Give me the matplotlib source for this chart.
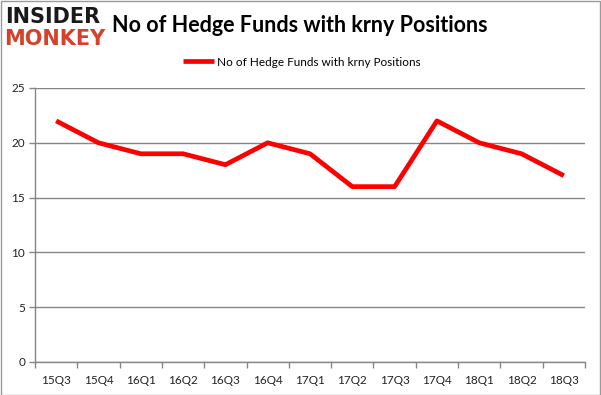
import matplotlib.pyplot as plt
import numpy as np

quarters = ["15Q3", "15Q4", "16Q1", "16Q2", "16Q3", "16Q4", "17Q1",
            "17Q2", "17Q3", "17Q4", "18Q1", "18Q2", "18Q3"]
funds = [22, 20, 19, 19, 18, 20, 19, 16, 16, 22, 20, 19, 17]
series_name = "No of Hedge Funds with krny Positions"

W, H = 601, 395
fig = plt.figure(figsize=(W / 100, H / 100), dpi=100)
fig.patch.set_facecolor("white")

# axes box in pixels
left, right, top, bottom = 35, 585, 88, 362
ax = fig.add_axes([left / W, 1 - bottom / H, (right - left) / W, (bottom - top) / H])

x = np.arange(len(quarters))
ax.plot(x, funds, color="#ff0000", linewidth=3.4, solid_capstyle="butt", label=series_name)

ax.set_xlim(-0.5, len(quarters) - 0.5)
ax.set_ylim(0, 25)
ax.set_yticks(range(0, 26, 5))
ax.yaxis.grid(True, color="#868686", linewidth=1)
ax.set_axisbelow(True)

# category ticks sit between the labels, like the original
ax.set_xticks(np.arange(-0.5, len(quarters)), minor=False)
ax.set_xticklabels([])
ax.set_xticks(x, minor=True)
ax.set_xticklabels(quarters, minor=True)
ax.tick_params(axis="x", which="major", length=4, color="#868686", width=1, direction="out")
ax.tick_params(axis="x", which="minor", length=0, pad=9, labelsize=8.5, labelcolor="#222222")
ax.tick_params(axis="y", length=4, color="#868686", width=1, labelsize=8.5,
               labelcolor="#222222", pad=3)

for side in ["top", "right"]:
    ax.spines[side].set_visible(False)
for side in ["left", "bottom"]:
    ax.spines[side].set_color("#868686")
    ax.spines[side].set_linewidth(1)

for lab in ax.get_xticklabels(minor=True) + ax.get_yticklabels():
    lab.set_family("Lato")

fig.text(300 / W, 1 - 26 / H, series_name, ha="center", va="center",
         fontsize=15.5, fontweight="bold", family="Lato", color="black")

fig.legend(loc="center", bbox_to_anchor=(302 / W, 1 - 62 / H), frameon=False,
           prop={"family": "Lato", "size": 8.5}, handlelength=2.6, handletextpad=0.3)

# logo
fig.text(5 / W, 1 - 17 / H, "INSIDER", ha="left", va="center", fontsize=15,
         fontweight="black", family="DejaVu Sans", color="#1a1a1a")
fig.text(4 / W, 1 - 39 / H, "MONKEY", ha="left", va="center", fontsize=15,
         fontweight="black", family="DejaVu Sans", color="#d5412b")

# thin grey frame round the whole picture
fig.add_artist(plt.Rectangle((0.5 / W, 0.5 / H), 1 - 1.5 / W, 1 - 1.5 / H,
                             transform=fig.transFigure, fill=False,
                             edgecolor="#9a9a9a", linewidth=1))

fig.savefig("out.png", dpi=100, facecolor="white")
